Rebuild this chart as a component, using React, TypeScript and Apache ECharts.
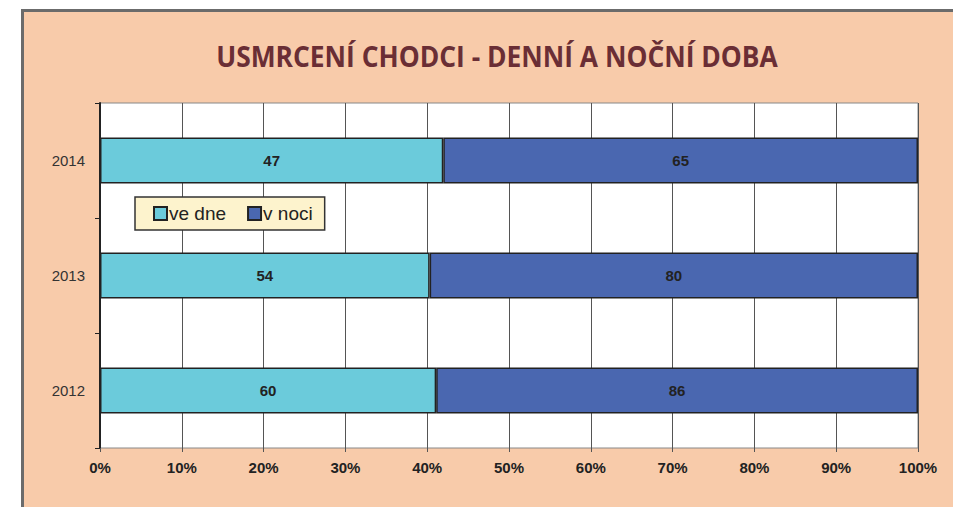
import React, { useEffect, useRef } from "react";
import * as echarts from "echarts";

const years = ["2012", "2013", "2014"];
const dayValues = [60, 54, 47];
const nightValues = [86, 80, 65];
const seriesNames = ["ve dne", "v noci"];
const titleText = "USMRCENÍ CHODCI - DENNÍ A NOČNÍ DOBA";

const TITLE_FONT = "bold 29px 'Open Sans'";
const TITLE_WIDTH = 562;

export default function App() {
  const ref = useRef<HTMLDivElement>(null);
  useEffect(() => {
    if (!ref.current) return;
    const chart = echarts.init(ref.current, undefined, { renderer: "svg" });
    let scaleX = 0.8;
    try {
      const ctx = document.createElement("canvas").getContext("2d");
      if (ctx) {
        ctx.font = TITLE_FONT;
        const w = ctx.measureText(titleText).width;
        if (w > 0) scaleX = TITLE_WIDTH / w;
      }
    } catch (e) {}
    const totals = years.map((_, i) => dayValues[i] + nightValues[i]);
    const dayPct = dayValues.map((v, i) => ({ value: (v / totals[i]) * 100, raw: v }));
    const nightPct = nightValues.map((v, i) => ({ value: (v / totals[i]) * 100, raw: v }));
    const labelCfg = {
      show: true,
      position: "inside",
      fontFamily: "Liberation Sans, Arial, sans-serif",
      fontWeight: "bold",
      fontSize: 15,
      color: "#222",
      formatter: (p: any) => String(p.data.raw),
    };
    chart.setOption({
      animation: false,
      backgroundColor: "#ffffff",
      graphic: [
        {
          type: "rect",
          z: -10,
          silent: true,
          shape: { x: 22.5, y: 10.5, width: 945, height: 510 },
          style: { fill: "#f8cbaa", stroke: "#6b6b6b", lineWidth: 3 },
        },
        {
          type: "text",
          x: 497,
          y: 56,
          scaleX: scaleX,
          scaleY: 1,
          silent: true,
          style: {
            text: titleText,
            font: TITLE_FONT,
            fill: "#6a2e35",
            textAlign: "center",
            textVerticalAlign: "middle",
          },
        },
      ],
      legend: {
        data: seriesNames,
        left: 135,
        top: 197,
        orient: "horizontal",
        backgroundColor: "#fdf3cd",
        borderColor: "#333",
        borderWidth: 1.5,
        padding: [7, 12, 7, 18],
        itemWidth: 13,
        itemHeight: 13,
        itemGap: 21,
        icon: "rect",
        textStyle: {
          fontFamily: "Liberation Sans, Arial, sans-serif",
          fontSize: 19,
          color: "#222",
          padding: [0, 0, 0, -3],
        },
      },
      grid: {
        left: 100,
        right: 35,
        top: 103,
        bottom: 59,
        show: true,
        backgroundColor: "#ffffff",
        borderColor: "#888",
        borderWidth: 1,
      },
      xAxis: {
        type: "value",
        min: 0,
        max: 100,
        interval: 10,
        axisLine: { show: false },
        axisTick: { show: true, length: 4, lineStyle: { color: "#555" } },
        splitLine: { show: true, lineStyle: { color: "#555", width: 1 } },
        axisLabel: {
          formatter: "{value}%",
          fontFamily: "Liberation Sans, Arial, sans-serif",
          fontWeight: "bold",
          fontSize: 15,
          color: "#222",
          margin: 12,
        },
      },
      yAxis: {
        type: "category",
        data: years,
        axisLine: { show: true, lineStyle: { color: "#222", width: 2 } },
        axisTick: { show: true, length: 5, lineStyle: { color: "#222" } },
        splitLine: { show: false },
        axisLabel: {
          fontFamily: "Liberation Sans, Arial, sans-serif",
          fontSize: 15,
          color: "#333",
          margin: 15,
        },
      },
      series: [
        {
          name: seriesNames[0],
          type: "bar",
          stack: "total",
          barCategoryGap: "60%",
          data: dayPct,
          itemStyle: { color: "#6bcbdb", borderColor: "#222", borderWidth: 1.5 },
          label: labelCfg,
        },
        {
          name: seriesNames[1],
          type: "bar",
          stack: "total",
          barCategoryGap: "60%",
          data: nightPct,
          itemStyle: { color: "#4a67b0", borderColor: "#222", borderWidth: 1.5 },
          label: labelCfg,
        },
      ],
    });
    return () => chart.dispose();
  }, []);
  return (
    <div
      ref={ref}
      style={{ position: "absolute", left: 0, top: 0, width: 953, height: 507 }}
    />
  );
}
